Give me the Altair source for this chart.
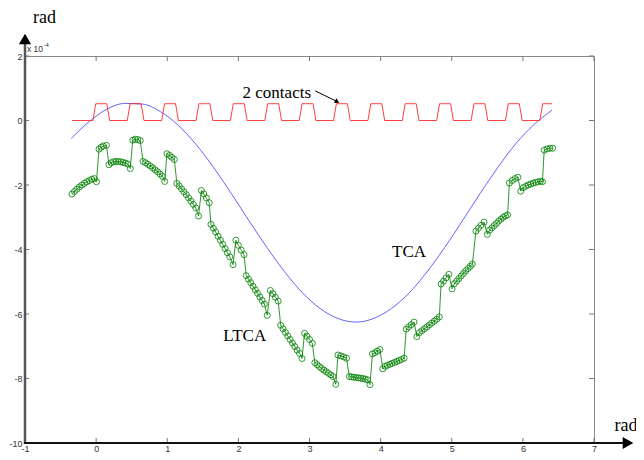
import altair as alt
import pandas as pd

# ---- data ----
tca_x = [-0.35, -0.10, 0.15, 0.40, 0.65, 0.90, 1.15, 1.40, 1.65, 1.90, 2.15, 2.40, 2.65, 2.90,
         3.15, 3.40, 3.65, 3.90, 4.15, 4.40, 4.65, 4.90, 5.15, 5.40, 5.65, 5.90, 6.15, 6.41]
tca_y = [-0.56, -0.04, 0.35, 0.53, 0.51, 0.28, -0.14, -0.73, -1.45, -2.26, -3.11, -3.93, -4.69, -5.34,
         -5.83, -6.14, -6.25, -6.14, -5.83, -5.35, -4.70, -3.94, -3.11, -2.26, -1.45, -0.72, -0.14, 0.32]

ltca_x = [
    -0.34, -0.305, -0.27, -0.235, -0.20, -0.165, -0.13, -0.095, -0.06, -0.025, 0.005,
    0.04, 0.07, 0.10, 0.145,
    0.18, 0.213, 0.246, 0.279, 0.312, 0.345, 0.378, 0.411, 0.444, 0.48,
    0.515, 0.55, 0.585, 0.62,
    0.66, 0.694, 0.728, 0.762, 0.796, 0.83, 0.864, 0.898, 0.932, 0.965,
    0.995, 1.03, 1.065, 1.10,
    1.135, 1.168, 1.201, 1.234, 1.267, 1.30, 1.333, 1.366, 1.40, 1.44,
    1.48, 1.515, 1.55, 1.59,
    1.615, 1.648, 1.681, 1.714, 1.747, 1.78, 1.813, 1.846, 1.88, 1.925,
    1.965, 2.0, 2.04, 2.08,
    2.11, 2.142, 2.174, 2.206, 2.238, 2.27, 2.302, 2.334, 2.366, 2.405,
    2.45, 2.485, 2.52, 2.56,
    2.595, 2.628, 2.661, 2.694, 2.727, 2.76, 2.793, 2.826, 2.86, 2.895,
    2.93, 2.965, 3.0, 3.04,
    3.075, 3.107, 3.139, 3.171, 3.203, 3.235, 3.267, 3.30, 3.33, 3.37,
    3.40, 3.44, 3.48, 3.52,
    3.56, 3.592, 3.624, 3.656, 3.688, 3.72, 3.752, 3.784, 3.816, 3.85,
    3.885, 3.92, 3.955, 3.99,
    4.03, 4.063, 4.096, 4.129, 4.162, 4.195, 4.228, 4.261, 4.294, 4.33,
    4.36, 4.395, 4.43, 4.47,
    4.51, 4.545, 4.58, 4.615, 4.65, 4.685, 4.72, 4.755, 4.79, 4.825,
    4.85, 4.885, 4.92, 4.96,
    5.005, 5.037, 5.069, 5.101, 5.133, 5.165, 5.197, 5.229, 5.261, 5.29,
    5.34, 5.375, 5.41, 5.455,
    5.50, 5.532, 5.564, 5.596, 5.628, 5.66, 5.692, 5.724, 5.756, 5.785,
    5.81, 5.85, 5.89, 5.93,
    5.97, 6.005, 6.04, 6.075, 6.11, 6.145, 6.18, 6.215, 6.25, 6.275,
    6.30, 6.34, 6.38, 6.42,
]
ltca_y = [
    -2.28, -2.20, -2.13, -2.06, -2.00, -1.95, -1.90, -1.86, -1.82, -1.80, -1.90,
    -0.89, -0.83, -0.79, -0.77,
    -1.37, -1.31, -1.28, -1.27, -1.27, -1.28, -1.30, -1.32, -1.35, -1.49,
    -0.61, -0.58, -0.59, -0.62,
    -1.27, -1.31, -1.36, -1.41, -1.47, -1.53, -1.59, -1.66, -1.73, -1.89,
    -1.03, -1.08, -1.14, -1.21,
    -1.95, -2.03, -2.12, -2.21, -2.30, -2.40, -2.50, -2.60, -2.71, -2.96,
    -2.17, -2.28, -2.40, -2.55,
    -3.22, -3.34, -3.46, -3.59, -3.71, -3.84, -3.97, -4.10, -4.23, -4.47,
    -3.71, -3.87, -4.02, -4.16,
    -4.81, -4.92, -5.03, -5.14, -5.25, -5.36, -5.47, -5.58, -5.69, -6.04,
    -5.27, -5.37, -5.48, -5.60,
    -6.35, -6.46, -6.57, -6.68, -6.79, -6.90, -7.01, -7.12, -7.22, -7.38,
    -6.60, -6.69, -6.79, -6.91,
    -7.51, -7.57, -7.63, -7.69, -7.74, -7.79, -7.84, -7.89, -7.94, -8.18,
    -7.27, -7.30, -7.33, -7.37,
    -7.94, -7.95, -7.96, -7.97, -7.98, -7.99, -8.00, -8.02, -8.04, -8.19,
    -7.24, -7.20, -7.15, -7.10,
    -7.70, -7.62, -7.59, -7.56, -7.53, -7.50, -7.47, -7.44, -7.41, -7.37,
    -6.47, -6.40, -6.33, -6.25,
    -6.70, -6.58, -6.52, -6.46, -6.40, -6.34, -6.28, -6.22, -6.16, -6.09,
    -5.07, -4.98, -4.88, -4.77,
    -5.22, -5.06, -4.98, -4.90, -4.82, -4.74, -4.66, -4.59, -4.52, -4.45,
    -3.43, -3.34, -3.25, -3.15,
    -3.53, -3.40, -3.33, -3.26, -3.19, -3.12, -3.06, -3.00, -2.96, -2.93,
    -1.94, -1.86, -1.80, -1.76,
    -2.19, -2.08, -2.04, -2.00, -1.97, -1.94, -1.92, -1.90, -1.88, -1.90,
    -0.92, -0.88, -0.86, -0.86,
]

contact_x = [-0.34,
             -0.045, -0.005, 0.150, 0.190,
             0.438, 0.478, 0.633, 0.673,
             0.922, 0.962, 1.117, 1.157,
             1.405, 1.445, 1.600, 1.640,
             1.888, 1.928, 2.083, 2.123,
             2.372, 2.412, 2.567, 2.607,
             2.855, 2.895, 3.050, 3.090,
             3.338, 3.378, 3.533, 3.573,
             3.822, 3.862, 4.017, 4.057,
             4.305, 4.345, 4.500, 4.540,
             4.788, 4.828, 4.983, 5.023,
             5.272, 5.312, 5.467, 5.507,
             5.755, 5.795, 5.950, 5.990,
             6.238, 6.278, 6.410]
contact_y = [0.0] + [0.0, 0.52, 0.52, 0.0] * 13 + [0.0, 0.52, 0.52]

x_ticks = [-1, 0, 1, 2, 3, 4, 5, 6, 7]
y_ticks = [-10, -8, -6, -4, -2, 0, 2]

note_text = ["2 contacts", "TCA", "LTCA"]
note_x = [2.54, 4.40, 2.09]
note_y = [0.86, -4.09, -6.68]

arrow_x = [3.08, 3.39]
arrow_y = [0.92, 0.585]

# ---- chart ----
W, H = 569, 387
xs = alt.Scale(domain=[-1, 7], nice=False, zero=False)
ys = alt.Scale(domain=[-10, 2], nice=False, zero=False)

lab = dict(labelFont="Liberation Sans", labelFontSize=9, labelColor="#333",
           domain=False, ticks=False, grid=False, labelExpr="datum.value + ''")
x_axis = alt.Axis(values=x_ticks, labelPadding=1, labelFlush=False, **lab)
y_axis = alt.Axis(values=y_ticks, labelPadding=3, **lab)

X = alt.X("x:Q", scale=xs, title=None, axis=x_axis)
Y = alt.Y("y:Q", scale=ys, title=None, axis=y_axis)

tca_df = pd.DataFrame({"x": tca_x, "y": tca_y, "i": range(len(tca_x))})
ltca_df = pd.DataFrame({"x": ltca_x, "y": ltca_y, "i": range(len(ltca_x))})
con_df = pd.DataFrame({"x": contact_x, "y": contact_y, "i": range(len(contact_x))})
xt_df = pd.DataFrame({"x": x_ticks})
yt_df = pd.DataFrame({"y": y_ticks})
note_df = pd.DataFrame({"x": note_x, "y": note_y, "t": note_text})
arr_df = pd.DataFrame({"x": arrow_x, "y": arrow_y, "i": [0, 1]})
one = pd.DataFrame({"t": ["rad"]})

tick_col = "#777"
top_ticks = alt.Chart(xt_df).mark_rule(color=tick_col, strokeWidth=1).encode(
    x=X, y=alt.value(0), y2=alt.value(5))
bot_ticks = alt.Chart(xt_df).mark_rule(color=tick_col, strokeWidth=1).encode(
    x=X, y=alt.value(H), y2=alt.value(H - 5))
right_ticks = alt.Chart(yt_df).mark_rule(color=tick_col, strokeWidth=1).encode(
    y=Y, x=alt.value(W), x2=alt.value(W - 5))
left_ticks = alt.Chart(yt_df).mark_rule(color=tick_col, strokeWidth=1).encode(
    y=Y, x=alt.value(0), x2=alt.value(4))

tca = alt.Chart(tca_df).mark_line(color="#3c3cff", strokeWidth=0.8, interpolate="monotone").encode(
    x=X, y=Y, order="i:Q")
contact = alt.Chart(con_df).mark_line(color="#ff2a2a", strokeWidth=0.9).encode(
    x=X, y=Y, order="i:Q")
ltca_line = alt.Chart(ltca_df).mark_line(color="#1a8a1a", strokeWidth=0.9).encode(
    x=X, y=Y, order="i:Q")
ltca_pts = alt.Chart(ltca_df).mark_point(shape="circle", filled=False, color="#008000",
                                         size=36, strokeWidth=0.8, opacity=1).encode(x=X, y=Y)

notes = alt.Chart(note_df).mark_text(font="Liberation Serif", fontSize=17, color="#000",
                                     align="center", baseline="middle").encode(x=X, y=Y, text="t:N")
arrow_line = alt.Chart(arr_df).mark_line(color="#000", strokeWidth=1).encode(x=X, y=Y, order="i:Q")
arrow_head = alt.Chart(arr_df.iloc[[1]]).mark_point(shape="triangle-up", filled=True, color="#000",
                                                     size=28, angle=117, opacity=1).encode(x=X, y=Y)

left_axis = alt.Chart(one).mark_rule(color="#555", strokeWidth=2.5).encode(
    x=alt.value(0), y=alt.value(H + 1), y2=alt.value(-12))
left_arrow = alt.Chart(one).mark_point(shape="triangle-up", filled=True, color="#000",
                                       size=150, opacity=1).encode(x=alt.value(0), y=alt.value(-17))
bot_axis = alt.Chart(one).mark_rule(color="#111", strokeWidth=2).encode(
    x=alt.value(-1), x2=alt.value(600), y=alt.value(H))
bot_arrow = alt.Chart(one).mark_point(shape="triangle-right", filled=True, color="#000",
                                      size=150, opacity=1).encode(x=alt.value(603), y=alt.value(H))

rad_top = alt.Chart(one).mark_text(font="Liberation Serif", fontSize=18, align="left",
                                   baseline="middle", color="#000").encode(
    x=alt.value(8), y=alt.value(-38), text="t:N")
rad_bot = alt.Chart(one).mark_text(font="Liberation Serif", fontSize=18, align="center",
                                   baseline="middle", color="#000").encode(
    x=alt.value(601), y=alt.value(370), text="t:N")
exp_base = alt.Chart(pd.DataFrame({"t": ["x 10"]})).mark_text(
    font="Liberation Sans", fontSize=8.5, align="left", baseline="alphabetic", color="#333").encode(
    x=alt.value(2), y=alt.value(-4), text="t:N")
exp_pow = alt.Chart(pd.DataFrame({"t": ["-4"]})).mark_text(
    font="Liberation Sans", fontSize=6, align="left", baseline="alphabetic", color="#333").encode(
    x=alt.value(18.5), y=alt.value(-9), text="t:N")

chart = alt.layer(
    top_ticks, bot_ticks, right_ticks, left_ticks,
    tca, contact, ltca_line, ltca_pts,
    notes, arrow_line, arrow_head,
    left_axis, left_arrow, bot_axis, bot_arrow,
    rad_top, rad_bot, exp_base, exp_pow,
).properties(
    width=W, height=H,
    padding={"left": 17, "top": 48, "right": 42, "bottom": 9},
    autosize=alt.AutoSizeParams(type="none"),
).configure_view(stroke="#888", strokeWidth=1)

chart.save("out.html", embed_options={"renderer": "svg", "actions": False})
